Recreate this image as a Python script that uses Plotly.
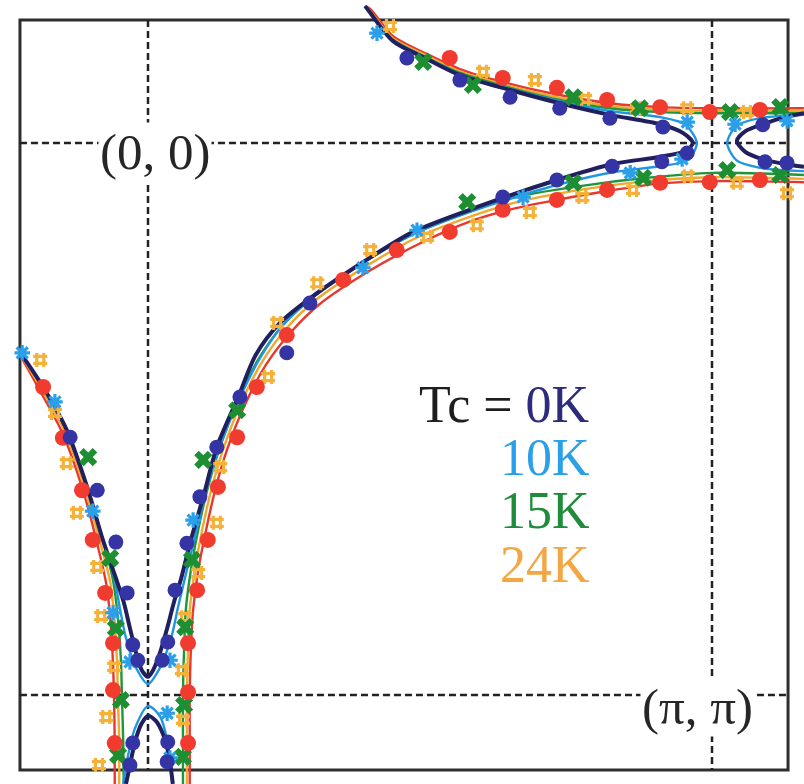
import plotly.graph_objects as go

# Fermi-surface contours in the (kx, ky) plane, momenta in units of pi.
# ky grows downward; (0, 0) and (pi, pi) are marked by the dashed guide lines.

# ---- Tc = 0K : gapped contour (main sheet, pocket under (pi, pi), pocket right of (pi, 0))
TC0_MAIN_KX = [0.385, 0.394, 0.434, 0.495, 0.553, 0.642, 0.730, 0.819, 0.908, 0.949, 0.966,
               0.954, 0.908, 0.824, 0.725, 0.589, 0.470, 0.381, 0.293, 0.234, 0.191, 0.160,
               0.122, 0.098, 0.076, 0.059, 0.046, 0.034, 0.021, 0.009, 0.000, -0.011, -0.021,
               -0.032, -0.043, -0.057, -0.080, -0.108, -0.144, -0.186, -0.227]
TC0_MAIN_KY = [-0.248, -0.236, -0.185, -0.152, -0.123, -0.096, -0.072, -0.051, -0.034, -0.018, 0.000,
               0.014, 0.025, 0.038, 0.067, 0.114, 0.161, 0.216, 0.277, 0.326, 0.384, 0.460,
               0.551, 0.641, 0.719, 0.788, 0.832, 0.879, 0.924, 0.955, 0.967, 0.955, 0.924,
               0.879, 0.832, 0.788, 0.719, 0.623, 0.520, 0.442, 0.379]
TC0_LOW_KX = [-0.039, -0.032, -0.023, -0.012, 0.000, 0.014, 0.027, 0.037, 0.044]
TC0_LOW_KY = [1.161, 1.127, 1.085, 1.053, 1.038, 1.047, 1.072, 1.109, 1.161]
TC0_RIGHT_KX = [1.163, 1.129, 1.090, 1.060, 1.044, 1.059, 1.089, 1.129, 1.163]
TC0_RIGHT_KY = [-0.054, -0.047, -0.034, -0.022, -0.004, 0.016, 0.029, 0.038, 0.043]
TC0_PTS_KX = [0.459, 0.553, 0.642, 0.730, 0.819, 0.913, 0.956, 0.911, 0.823, 0.725, 0.629,
              0.287, 0.246, 0.163, 0.122, 0.092, 0.069, 0.048, 0.035, 0.025, -0.090, -0.138,
              -0.057, -0.037, -0.027, -0.018, -0.027, -0.032, 0.035, 0.034, 1.090, 1.094, 1.133]
TC0_PTS_KY = [-0.154, -0.114, -0.083, -0.063, -0.045, -0.029, 0.018, 0.034, 0.042, 0.067, 0.098,
              0.290, 0.380, 0.460, 0.551, 0.641, 0.725, 0.810, 0.904, 0.937, 0.629, 0.533,
              0.723, 0.815, 0.909, 0.937, 1.087, 1.127, 1.085, 1.121, -0.033, 0.034, 0.036]

# ---- Tc = 10K : smaller gap
TC10_MAIN_KX = [0.385, 0.394, 0.434, 0.495, 0.553, 0.642, 0.730, 0.819, 0.908, 0.952, 0.973,
                0.957, 0.908, 0.824, 0.725, 0.642, 0.559, 0.470, 0.381, 0.293, 0.239, 0.199,
                0.161, 0.126, 0.101, 0.082, 0.066, 0.053, 0.041, 0.021, 0.000, -0.021, -0.039,
                -0.050, -0.060, -0.080, -0.108, -0.144, -0.186, -0.227]
TC10_MAIN_KY = [-0.248, -0.236, -0.187, -0.154, -0.125, -0.098, -0.076, -0.058, -0.047, -0.034, 0.000,
                0.031, 0.042, 0.053, 0.076, 0.101, 0.129, 0.165, 0.217, 0.279, 0.330, 0.389,
                0.466, 0.554, 0.638, 0.719, 0.786, 0.842, 0.897, 0.951, 0.980, 0.951, 0.897,
                0.842, 0.786, 0.719, 0.623, 0.520, 0.442, 0.379]
TC10_LOW_KX = [-0.044, -0.037, -0.023, 0.000, 0.021, 0.034, 0.043]
TC10_LOW_KY = [1.161, 1.118, 1.060, 1.020, 1.038, 1.082, 1.161]
TC10_RIGHT_KX = [1.163, 1.085, 1.043, 1.027, 1.043, 1.085, 1.163]
TC10_RIGHT_KY = [-0.051, -0.045, -0.031, 0.000, 0.031, 0.045, 0.051]
TC10_PTS_KX = [-0.223, -0.165, -0.098, -0.062, -0.032, 0.039, 0.034, 0.039, 0.080, 0.381, 0.477,
               0.406, 0.665, 0.855, 0.947, 0.956, 1.041, 1.133]
TC10_PTS_KY = [0.380, 0.469, 0.667, 0.851, 0.940, 0.937, 1.033, 1.114, 0.683, 0.226, 0.158,
               -0.199, 0.098, 0.054, 0.029, -0.038, -0.034, -0.040]

# ---- Tc = 15K : ungapped, three open sheets
U_KX = [0.385, 0.394, 0.434, 0.495, 0.553, 0.642, 0.730, 0.819, 0.908, 1.000, 1.163]
TC15_U_KY = [-0.248, -0.236, -0.187, -0.154, -0.127, -0.100, -0.078, -0.063, -0.056, -0.054, -0.054]
TC15_L_KX = [0.062, 0.062, 0.062, 0.064, 0.067, 0.076, 0.089, 0.105, 0.126, 0.156, 0.195,
             0.239, 0.293, 0.381, 0.470, 0.559, 0.642, 0.766, 0.885, 1.000, 1.163]
TC15_L_KY = [1.161, 1.082, 1.000, 0.918, 0.846, 0.774, 0.701, 0.629, 0.556, 0.475, 0.393,
             0.330, 0.279, 0.217, 0.165, 0.129, 0.100, 0.078, 0.063, 0.054, 0.058]
TC15_W_KX = [-0.227, -0.186, -0.144, -0.108, -0.080, -0.062, -0.053, -0.048, -0.046, -0.044, -0.043]
TC15_W_KY = [0.379, 0.442, 0.520, 0.623, 0.719, 0.792, 0.864, 0.937, 1.009, 1.082, 1.161]
TC15_PTS_KX = [0.488, 0.576, 0.754, 0.872, 1.032, 1.121, 0.566, 0.754, 0.878, 1.027, 1.121,
               0.158, 0.098, 0.078, 0.066, 0.064, 0.062, -0.106, -0.067, -0.057, -0.048, -0.053]
TC15_PTS_KY = [-0.147, -0.105, -0.083, -0.063, -0.056, -0.065, 0.107, 0.072, 0.063, 0.049, 0.058,
               0.484, 0.574, 0.755, 0.877, 1.018, 1.112, 0.569, 0.752, 0.879, 1.009, 1.109]

# ---- Tc = 24K
TC24_U_KY = [-0.248, -0.239, -0.190, -0.158, -0.130, -0.103, -0.082, -0.067, -0.060, -0.058, -0.058]
TC24_L_KX = [0.069, 0.069, 0.069, 0.071, 0.074, 0.083, 0.096, 0.112, 0.133, 0.163, 0.202,
             0.246, 0.298, 0.387, 0.475, 0.564, 0.647, 0.766, 0.885, 1.000, 1.163]
TC24_L_KY = [1.161, 1.082, 1.000, 0.918, 0.846, 0.774, 0.701, 0.629, 0.556, 0.476, 0.397,
             0.335, 0.284, 0.223, 0.172, 0.136, 0.109, 0.085, 0.069, 0.062, 0.065]
TC24_W_KX = [-0.227, -0.190, -0.147, -0.112, -0.085, -0.067, -0.059, -0.055, -0.053, -0.051, -0.051]
TC24_W_KY = [0.381, 0.444, 0.524, 0.627, 0.723, 0.795, 0.868, 0.940, 1.013, 1.085, 1.161]
TC24_PTS_KX = [0.429, 0.594, 0.686, 0.775, 0.867, 0.956, 1.062, 0.677, 0.770, 0.860, 0.957, 1.044,
               1.133, 0.229, 0.300, 0.394, 0.495, 0.583, 0.213, 0.128, 0.122, 0.089, 0.066, 0.060,
               0.062, -0.191, -0.165, -0.144, -0.126, -0.090, -0.083, -0.060, -0.074, -0.087]
TC24_PTS_KY = [-0.212, -0.129, -0.114, -0.080, -0.063, -0.063, -0.056, 0.125, 0.098, 0.085, 0.060, 0.072,
               0.091, 0.326, 0.254, 0.194, 0.170, 0.149, 0.424, 0.587, 0.688, 0.779, 0.859, 0.955,
               1.045, 0.393, 0.489, 0.580, 0.670, 0.768, 0.857, 0.949, 1.040, 1.127]

# ---- measured contour (red)
EXP_U_KY = [-0.248, -0.243, -0.194, -0.161, -0.134, -0.107, -0.087, -0.072, -0.065, -0.063, -0.063]
EXP_L_KX = [0.074, 0.074, 0.074, 0.076, 0.080, 0.089, 0.103, 0.119, 0.140, 0.170, 0.209,
            0.254, 0.303, 0.392, 0.480, 0.569, 0.652, 0.725, 0.814, 0.902, 1.000, 1.163]
EXP_L_KY = [1.161, 1.082, 1.000, 0.918, 0.846, 0.774, 0.701, 0.629, 0.556, 0.478, 0.402,
            0.342, 0.293, 0.232, 0.183, 0.143, 0.118, 0.103, 0.087, 0.074, 0.069, 0.071]
EXP_W_KX = [-0.227, -0.193, -0.151, -0.115, -0.090, -0.074, -0.066, -0.062, -0.060, -0.059, -0.059]
EXP_W_KY = [0.384, 0.446, 0.527, 0.630, 0.726, 0.799, 0.871, 0.944, 1.016, 1.089, 1.161]
EXP_PTS_KX = [0.535, 0.629, 0.725, 0.814, 0.908, 0.996, 1.085, 0.629, 0.725, 0.814, 0.908, 0.996,
              1.085, 0.535, 0.441, 0.346, 0.246, 0.193, 0.158, 0.124, 0.106, 0.087, 0.071, 0.071,
              0.071, -0.186, -0.151, -0.117, -0.098, -0.076, -0.062, -0.062, -0.059]
EXP_PTS_KY = [-0.154, -0.118, -0.100, -0.078, -0.065, -0.056, -0.060, 0.121, 0.103, 0.085, 0.072, 0.071,
              0.067, 0.161, 0.194, 0.248, 0.348, 0.442, 0.533, 0.623, 0.719, 0.810, 0.906, 0.995,
              1.087, 0.442, 0.534, 0.629, 0.719, 0.815, 0.906, 0.991, 1.087]

LEGEND_LABELS = ["0K", "10K", "15K", "24K"]

NAVY, SKY, GREEN, ORANGE, RED = "#20205f", "#2196e0", "#1f963a", "#f0a830", "#e8382e"


def joined(*branches):
    """Concatenate contour branches, separated by gaps."""
    xs, ys = [], []
    for bx, by in branches:
        if xs:
            xs.append(None)
            ys.append(None)
        xs.extend(bx)
        ys.extend(by)
    return xs, ys


fig = go.Figure()


def add_line(branches, color, width):
    xs, ys = joined(*branches)
    fig.add_trace(go.Scatter(x=xs, y=ys, mode="lines", connectgaps=False,
                             line=dict(color=color, width=width, shape="spline", smoothing=0.8),
                             hoverinfo="skip"))


add_line([(U_KX, EXP_U_KY), (EXP_L_KX, EXP_L_KY), (EXP_W_KX, EXP_W_KY)], RED, 2.4)
add_line([(U_KX, TC24_U_KY), (TC24_L_KX, TC24_L_KY), (TC24_W_KX, TC24_W_KY)], ORANGE, 2.4)
add_line([(U_KX, TC15_U_KY), (TC15_L_KX, TC15_L_KY), (TC15_W_KX, TC15_W_KY)], GREEN, 2.4)
add_line([(TC10_MAIN_KX, TC10_MAIN_KY), (TC10_LOW_KX, TC10_LOW_KY), (TC10_RIGHT_KX, TC10_RIGHT_KY)], SKY, 2.4)
add_line([(TC0_MAIN_KX, TC0_MAIN_KY), (TC0_LOW_KX, TC0_LOW_KY), (TC0_RIGHT_KX, TC0_RIGHT_KY)], NAVY, 4)


def add_points(xs, ys, symbol, size, color, open_symbol=False, lw=3):
    marker = dict(symbol=symbol, size=size, color=color)
    if open_symbol:
        marker["line"] = dict(color=color, width=lw)
    else:
        marker["line"] = dict(width=0)
    fig.add_trace(go.Scatter(x=xs, y=ys, mode="markers", marker=marker,
                             cliponaxis=False, hoverinfo="skip"))


add_points(TC24_PTS_KX, TC24_PTS_KY, "hash-open", 14, "#f5b23a", True, 3.2)
add_points(TC15_PTS_KX, TC15_PTS_KY, "x", 16, "#1e8e33")
add_points(TC10_PTS_KX, TC10_PTS_KY, "asterisk-open", 13, "#2aa0ea", True, 3.2)
add_points(EXP_PTS_KX, EXP_PTS_KY, "circle", 16, "#f23b2f")
add_points(TC0_PTS_KX, TC0_PTS_KY, "circle", 15, "#3434a4")

# frame and dashed guide lines through (0,0) and (pi,pi)
FX0, FX1, FY0, FY1 = -0.227, 1.1348, -0.2228, 1.1359
shapes = [dict(type="rect", x0=FX0, x1=FX1, y0=FY0, y1=FY1, xref="x", yref="y",
               line=dict(color="#2e2e2e", width=3), layer="below")]
for k in (0.0, 1.0):
    shapes.append(dict(type="line", x0=k, x1=k, y0=FY0, y1=FY1, xref="x", yref="y",
                       line=dict(color="#222222", width=2.5, dash="7px,4px"), layer="below"))
    shapes.append(dict(type="line", x0=FX0, x1=FX1, y0=k, y1=k, xref="x", yref="y",
                       line=dict(color="#222222", width=2.5, dash="7px,4px"), layer="below"))

SERIF = "Liberation Serif, Times New Roman, serif"
annotations = [
    dict(x=0.012, y=0.016, text="(0, 0)", showarrow=False, xanchor="center", yanchor="middle",
         bgcolor="white", font=dict(family=SERIF, size=51, color="#262626")),
    dict(x=0.975, y=1.022, text="(\u03c0, \u03c0)", showarrow=False, xanchor="center", yanchor="middle",
         bgcolor="white", font=dict(family=SERIF, size=51, color="#262626")),
]
label_colors = ["#2d2b7d", "#2aa0e8", "#1f8b3b", "#f2a743"]
label_y = [0.473, 0.569, 0.665, 0.763]
for lab, col, ly in zip(LEGEND_LABELS, label_colors, label_y):
    txt = f"<span style='color:{col}'>{lab}</span>"
    if lab == LEGEND_LABELS[0]:
        txt = "Tc = " + txt
    annotations.append(dict(x=0.787, y=ly, text=txt, showarrow=False, xanchor="right",
                            yanchor="middle", font=dict(family=SERIF, size=52, color="#1e1e1e")))

fig.update_layout(
    width=804, height=784,
    margin=dict(l=0, r=0, t=0, b=0),
    paper_bgcolor="white", plot_bgcolor="white",
    showlegend=False,
    xaxis=dict(range=[-0.2624, 1.1631], visible=False, fixedrange=True),
    yaxis=dict(range=[1.1612, -0.2591], visible=False, fixedrange=True),
    shapes=shapes, annotations=annotations,
)

fig.write_html("out.html")
